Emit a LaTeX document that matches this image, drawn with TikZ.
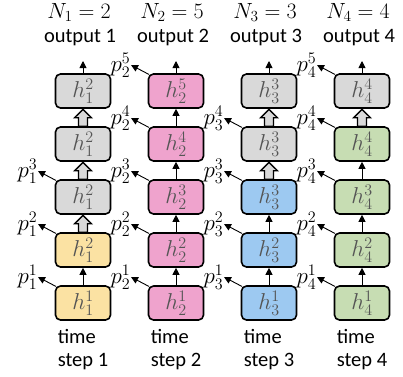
\documentclass[tikz,border=0pt]{standalone}
\usepackage{fix-cm}
\usepackage{fontspec}
\setmainfont{Carlito}
\usetikzlibrary{arrows.meta,calc}

\definecolor{cgray}{HTML}{D9D9D9}
\definecolor{cyel}{HTML}{FBE2A3}
\definecolor{cpink}{HTML}{EFA3CD}
\definecolor{cblue}{HTML}{9DC9F1}
\definecolor{cgreen}{HTML}{C7DDB3}
\definecolor{htext}{HTML}{555555}

% block arrow from the top of #1 up to the bottom of #2
\newcommand\blockup[2]{%
  \draw[bigarrow] let \p1=(#1.north), \p2=(#2.south) in
    (\x1-4.5pt,\y1) -- (\x1-4.5pt,\y2-9pt) -- (\x1-8.5pt,\y2-9pt)
    -- (\x1,\y2-0.6pt) -- (\x1+8.5pt,\y2-9pt) -- (\x1+4.5pt,\y2-9pt)
    -- (\x1+4.5pt,\y1) -- cycle;}

\begin{document}
\begin{tikzpicture}[x=1pt,y=-1pt,
  cell/.style={draw=black, line width=1.6pt, rounded corners=5pt,
    minimum width=55pt, minimum height=34pt, inner sep=0pt,
    font=\fontsize{23}{27}\selectfont, text=htext},
  thinarrow/.style={-{Triangle[length=7pt,width=7pt]}, line width=0.9pt},
  plab/.style={anchor=east, inner sep=0.5pt, font=\fontsize{23}{27}\selectfont},
  bigarrow/.style={fill=cgray, draw=black, line width=1.3pt, line join=miter},
  txt/.style={inner sep=0pt, font=\fontsize{20.5}{24}\selectfont},
  mtxt/.style={inner sep=0pt, font=\fontsize{22}{26}\selectfont}
]
\useasboundingbox (0,0) rectangle (403,376);

% ---- column 1 ----
\node[cell, fill=cyel]  (c1r1) at (83,303) {$h_1^1$};
\node[cell, fill=cyel]  (c1r2) at (83,250) {$h_1^2$};
\node[cell, fill=cgray] (c1r3) at (83,197) {$h_1^2$};
\node[cell, fill=cgray] (c1r4) at (83,144) {$h_1^2$};
\node[cell, fill=cgray] (c1r5) at (83,91)  {$h_1^2$};
% ---- column 2 ----
\node[cell, fill=cpink] (c2r1) at (176,303) {$h_2^1$};
\node[cell, fill=cpink] (c2r2) at (176,250) {$h_2^2$};
\node[cell, fill=cpink] (c2r3) at (176,197) {$h_2^3$};
\node[cell, fill=cpink] (c2r4) at (176,144) {$h_2^4$};
\node[cell, fill=cpink] (c2r5) at (176,91)  {$h_2^5$};
% ---- column 3 ----
\node[cell, fill=cblue] (c3r1) at (269,303) {$h_3^1$};
\node[cell, fill=cblue] (c3r2) at (269,250) {$h_3^2$};
\node[cell, fill=cblue] (c3r3) at (269,197) {$h_3^3$};
\node[cell, fill=cgray] (c3r4) at (269,144) {$h_3^3$};
\node[cell, fill=cgray] (c3r5) at (269,91)  {$h_3^3$};
% ---- column 4 ----
\node[cell, fill=cgreen] (c4r1) at (362,303) {$h_4^1$};
\node[cell, fill=cgreen] (c4r2) at (362,250) {$h_4^2$};
\node[cell, fill=cgreen] (c4r3) at (362,197) {$h_4^3$};
\node[cell, fill=cgreen] (c4r4) at (362,144) {$h_4^4$};
\node[cell, fill=cgray]  (c4r5) at (362,91)  {$h_4^4$};

% ---- vertical connections ----
\draw[thinarrow] (c1r1) -- (c1r2);
\blockup{c1r2}{c1r3}
\blockup{c1r3}{c1r4}
\blockup{c1r4}{c1r5}
\foreach \r/\s in {1/2,2/3,3/4,4/5} \draw[thinarrow] (c2r\r) -- (c2r\s);
\draw[thinarrow] (c3r1) -- (c3r2);
\draw[thinarrow] (c3r2) -- (c3r3);
\blockup{c3r3}{c3r4}
\blockup{c3r4}{c3r5}
\foreach \r/\s in {1/2,2/3,3/4} \draw[thinarrow] (c4r\r) -- (c4r\s);
\blockup{c4r4}{c4r5}

% ---- halting probabilities ----
\foreach \c/\x/\n in {1/83/3, 2/176/5, 3/269/4, 4/362/5} {
  \foreach \r in {1,...,\n} {
    \node[plab] (p\c\r) at ({\x-45}, {339-53*\r-9}) {$p_{\c}^{\r}$};
    \draw[thinarrow] ([shift={(1.2,1.2)}]c\c r\r.north west) -- (p\c\r.east);
  }
}

% ---- outputs, titles and time steps ----
\foreach \c/\x/\N in {1/83/2, 2/176/5, 3/269/3, 4/362/4} {
  \coordinate (o\c) at (\x,61);
  \draw[thinarrow] (c\c r5.north) -- (o\c);
  \node[txt, anchor=base] (out\c) at ({\x-3},42) {output \c};
  \node[mtxt, anchor=base] (tit\c) at ({\x-4},18) {$N_{\c} = \N$};
  \node[txt, anchor=base] (st\c) at (\x,366) {step \c};
  \node[txt, anchor=base west] (tm\c) at ([yshift=23pt]st\c.base west) {time};
}
\end{tikzpicture}
\end{document}
